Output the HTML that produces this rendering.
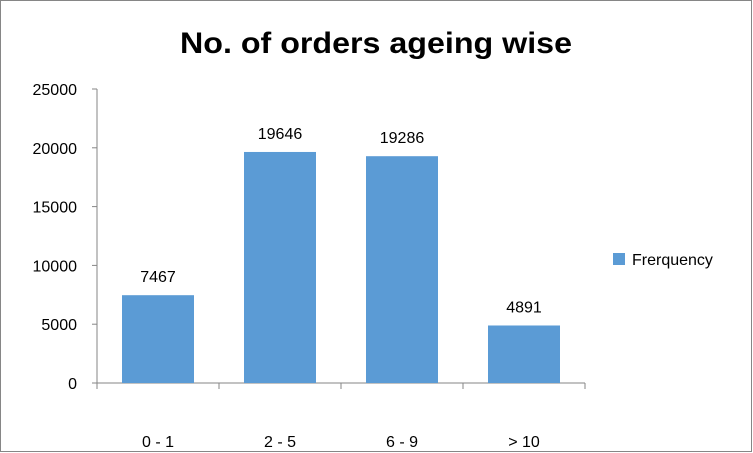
<!DOCTYPE html>
<html><head><meta charset="utf-8"><style>
html,body{margin:0;padding:0;background:#fff;}
svg{display:block;font-family:"Liberation Sans",sans-serif;}
</style></head><body>
<svg id="chart" width="753" height="453">
<rect x="0.5" y="0.5" width="751" height="451" fill="#fff" stroke="#868686"/>
<text x="376" y="53" text-anchor="middle" font-size="30" font-weight="bold" textLength="392" lengthAdjust="spacingAndGlyphs" fill="#000">No. of orders ageing wise</text>
<g id="axes"></g>
<g id="bars"></g>
<rect x="613" y="253" width="12" height="12" fill="#5b9bd5"/>
<text x="632" y="265" font-size="16" fill="#000">Frerquency</text>
</svg>
<script>
const categories=["0 - 1","2 - 5","6 - 9","> 10"];
const values=[7467,19646,19286,4891];
const yTicks=[0,5000,10000,15000,20000,25000];
const NS="http://www.w3.org/2000/svg";
const x0=97,x1=585,yBase=383,yTop=89,yMax=25000;
const y=v=>yBase-(v/yMax)*(yBase-yTop);
const band=(x1-x0)/categories.length;
const axes=document.getElementById('axes'),bars=document.getElementById('bars');
function mk(tag,attrs,parent){const e=document.createElementNS(NS,tag);for(const k in attrs)e.setAttribute(k,attrs[k]);parent.appendChild(e);return e;}
let l=mk('line',{x1:x0,y1:yTop,x2:x0,y2:yBase,stroke:'#868686'},axes);


l=mk('line',{x1:x0,y1:yBase,x2:x1,y2:yBase,stroke:'#868686'},axes);


yTicks.forEach(t=>{
 const tk=mk('line',{x1:x0-5,y1:y(t),x2:x0,y2:y(t),stroke:'#868686'},axes);
 
 
 const tx=mk('text',{x:x0-20,y:y(t)+6,'text-anchor':'end','font-size':'16',fill:'#000'},axes);
 tx.textContent=t;
 
 
});
for(let i=0;i<=categories.length;i++){
 const tk=mk('line',{x1:x0+i*band,y1:yBase,x2:x0+i*band,y2:yBase+6,stroke:'#868686'},axes);
 
 
}
const bw=72;
categories.forEach((c,i)=>{
 const cx=x0+band*(i+0.5);
 const r=mk('rect',{x:cx-bw/2,y:y(values[i]),width:bw,height:yBase-y(values[i]),fill:'#5b9bd5'},bars);
 
 
 const vl=mk('text',{x:cx,y:y(values[i])-13,'text-anchor':'middle','font-size':'16',fill:'#000'},bars);
 vl.textContent=values[i];
 
 
 const cl=mk('text',{x:cx,y:447,'text-anchor':'middle','font-size':'16',fill:'#000'},axes);
 cl.textContent=c;
 
 
});
</script>
</body></html>
